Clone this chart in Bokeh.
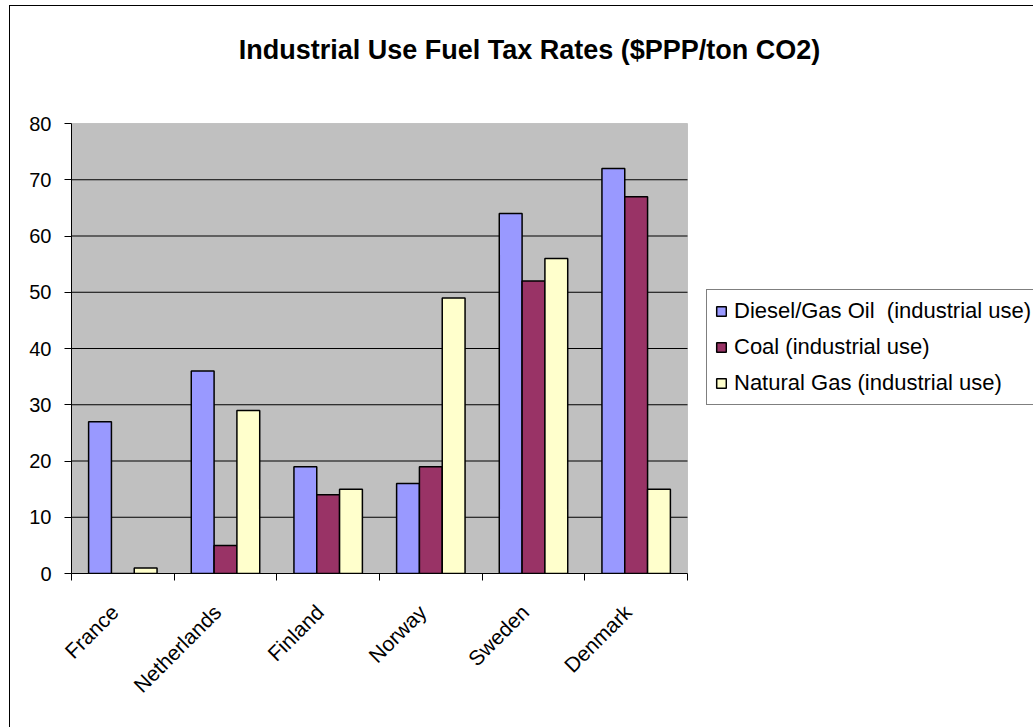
import math
from bokeh.plotting import figure
from bokeh.models import (ColumnDataSource, Range1d, FixedTicker, Legend, LegendItem, LinearAxis,
                          BoxAnnotation, Label)
from bokeh.embed import file_html
from bokeh.resources import INLINE

countries = ["France", "Netherlands", "Finland", "Norway", "Sweden", "Denmark"]
series_names = ["Diesel/Gas Oil  (industrial use)", "Coal (industrial use)", "Natural Gas (industrial use)"]
diesel = [27, 36, 19, 16, 64, 72]
coal = [0, 5, 14, 19, 52, 67]
natgas = [1, 29, 15, 49, 56, 15]
colors = ["#9999FF", "#993366", "#FFFFCC"]
y_ticks = [0, 10, 20, 30, 40, 50, 60, 70, 80]
title_text = "Industrial Use Fuel Tax Rates ($PPP/ton CO2)"

FONT = "Liberation Sans"
W, H = 1033, 727
# plot-area layout in screen pixels
PL, PR, PT, PB = 71, 687, 123, 573
n = len(countries)
ymax = y_ticks[-1]
xr_end = n * (W - PL) / (PR - PL)
yr_end = ymax * PB / (PB - PT)

p = figure(width=W, height=H, output_backend="svg", toolbar_location=None,
           x_range=Range1d(0, xr_end), y_range=Range1d(0, yr_end),
           min_border_left=PL, min_border_right=0,
           min_border_top=0, min_border_bottom=H - PB,
           x_axis_location=None, y_axis_location=None)
# chart-area border (top and left edges, as in the reference)
p.styles = {
    "background": "linear-gradient(#000, #000) 9px 5px / 1px calc(100% - 5px) no-repeat, "
                  "linear-gradient(#000, #000) 9px 5px / calc(100% - 9px) 1px no-repeat, #fff"
}
p.background_fill_alpha = 0
p.border_fill_alpha = 0
p.outline_line_color = None
p.xgrid.visible = False
p.ygrid.visible = False

# plot area
p.add_layout(BoxAnnotation(left=0, right=n, bottom=0, top=ymax, fill_color="#C0C0C0", fill_alpha=1,
                           line_color="#808080", line_width=1, level="underlay"))

# gridlines
inner = y_ticks[1:-1]
p.segment(x0=[0] * len(inner), x1=[n] * len(inner), y0=inner, y1=inner, line_color="black", line_width=1)

bw = 1.0 / 4.5
offsets = [-bw, 0.0, bw]
renderers = []
for vals, off, col in zip([diesel, coal, natgas], offsets, colors):
    src = ColumnDataSource(dict(x=[i + 0.5 + off for i in range(n)], top=vals))
    r = p.vbar(x="x", top="top", width=bw, bottom=0, source=src, fill_color=col,
               line_color="black", line_width=1.5)
    renderers.append(r)

# y axis
yax = LinearAxis(ticker=FixedTicker(ticks=y_ticks), bounds=(0, ymax))
yax.axis_line_color = "black"
yax.major_tick_line_color = "black"
yax.major_tick_out = 7
yax.major_tick_in = 0
yax.minor_tick_line_color = None
yax.major_label_text_font = FONT
yax.major_label_text_font_size = "20px"
yax.major_label_text_color = "black"
yax.major_label_standoff = 13
p.add_layout(yax, "left")

# x axis: boundary ticks as minor ticks, labels near the category centers
label_pos = [i + 0.42 for i in range(n)]
xax = LinearAxis(ticker=FixedTicker(ticks=label_pos, minor_ticks=list(range(n + 1))), bounds=(0, n))
xax.major_label_overrides = {c: name for c, name in zip(label_pos, countries)}
xax.major_label_orientation = math.pi / 4
xax.axis_line_color = "black"
xax.major_tick_line_color = None
xax.minor_tick_line_color = "black"
xax.minor_tick_out = 7
xax.minor_tick_in = 0
xax.major_label_text_font = FONT
xax.major_label_text_font_size = "21px"
xax.major_label_text_color = "black"
xax.major_label_standoff = 28
p.add_layout(xax, "below")

# title
tx = (529 - PL) / (PR - PL) * n
ty = (PB - 49) / (PB - PT) * ymax
p.add_layout(Label(x=tx, y=ty, text=title_text, text_font=FONT, text_font_size="27px",
                   text_font_style="bold", text_color="black", text_align="center",
                   text_baseline="middle"))

legend = Legend(items=[LegendItem(label=nm, renderers=[r]) for nm, r in zip(series_names, renderers)],
                location=(706 - PL, PB - 405))
legend.label_text_font = FONT
legend.label_text_font_size = "22px"
legend.label_text_color = "black"
legend.glyph_width = 12
legend.glyph_height = 12
legend.label_height = 24
legend.spacing = 10
legend.padding = 8
legend.margin = 0
legend.label_standoff = 7
legend.border_line_color = "black"
legend.background_fill_color = "white"
legend.background_fill_alpha = 1
p.add_layout(legend, "center")

open("out.html", "w").write(file_html(p, INLINE))
